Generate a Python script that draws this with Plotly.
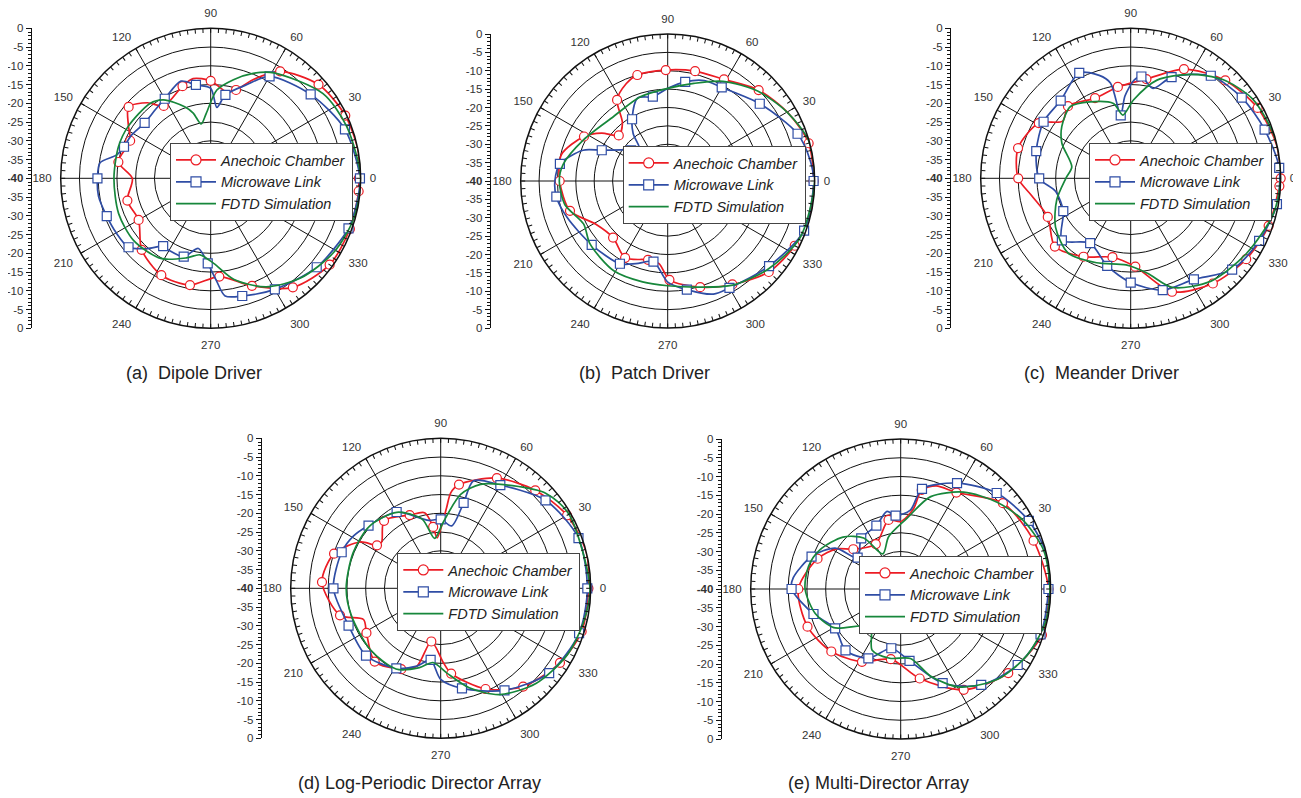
import plotly.graph_objects as go

W, H = 1301, 798
OFF = 8  # page body margin of the html page, in pixels
FONT = "Liberation Sans, Arial, Helvetica, sans-serif"

SERIES_NAMES = ["Anechoic Chamber", "Microwave Link", "FDTD Simulation"]
ANG_TICKS = list(range(0, 360, 30))
DB_TICKS = list(range(-40, 41, 5))

# ---------------- (a) Dipole Driver ----------------
A_RED_T = [0, 10, 25, 41, 57, 67, 74, 80, 90, 100, 107, 123, 130, 139, 147, 155, 170, 180, 195, 210, 226, 243, 259, 275, 291, 307, 324, 340, 355]
A_RED_R = [-0.5, 0, -0.4, -1.9, -6, -11.5, -15.5, -16.5, -14, -13, -14.3, -17, -13.7, -11, -13.8, -16.3, -15, -19.1, -17, -17.8, -13.5, -11, -11, -13.7, -9.3, -3.6, -0.8, -0.5, -0.4]
A_BLUE_T = [0, 20, 40, 60, 69, 80, 85, 90, 99, 107, 120, 129, 140, 152, 160, 166, 172, 180, 189, 200, 210, 220, 228, 235, 240, 251, 260, 268, 273, 277, 285, 300, 320, 340, 350]
A_BLUE_R = [-0.2, -1.9, -5.2, -8.6, -13.3, -17.4, -21, -16, -14.8, -12.9, -15.5, -16.5, -17, -15.9, -15.4, -14.2, -10.2, -9.8, -9.7, -10.5, -10.9, -11.4, -14.8, -17.9, -17.8, -17.9, -21, -17.3, -12.9, -8.4, -7.5, -5.8, -3.1, -0.9, -0.5]
A_GREEN_T = [0, 21, 37, 59, 68, 77, 86, 94, 100, 105, 110, 121, 129, 148, 161, 180, 201, 219, 238, 253, 262, 272, 283, 297, 312, 329, 344]
A_GREEN_R = [0, -1.2, -2.5, -7.2, -9.8, -13, -16.4, -22.7, -25.3, -22, -19.7, -15.6, -14.3, -14, -14, -14.2, -13.7, -13.6, -14.8, -17.8, -19.4, -17.3, -12.3, -7.5, -4.2, -1.7, -0.4]

# ---------------- (b) Patch Driver ----------------
B_RED_T = [0, 15, 29, 45, 61, 76, 91, 106, 113, 122, 128, 137, 144, 152, 166, 180, 197, 211, 226, 241, 256, 264, 271, 287, 302, 318, 333, 347]
B_RED_R = [-0.3, -0.3, -2.3, -5, -8.4, -9.2, -9.8, -10, -11.2, -14, -20, -21.8, -17.8, -14.2, -10.2, -10.6, -12.2, -17.2, -18.6, -16.1, -17.9, -17.4, -13.1, -9.8, -6.8, -3, -1.2, -0.3]
B_BLUE_T = [0, 8, 20, 40, 60, 70, 80, 90, 100, 110, 120, 126, 132, 140, 146, 155, 160, 171, 180, 188, 200, 220, 240, 249, 260, 270, 280, 292, 300, 320, 340]
B_BLUE_R = [-0.3, -0.8, -2.4, -7.3, -10.6, -10.9, -12.6, -14.8, -16.7, -16, -20.6, -24, -28.7, -27, -24.9, -20.2, -15.5, -10.3, -9.3, -9.4, -10.9, -13, -14, -15.9, -17.7, -12.5, -10, -6.8, -6.4, -4, -0.5]
B_GREEN_T = [0, 16, 30, 45, 61, 75, 90, 108, 130, 154, 171, 180, 193, 207, 219, 239, 256, 270, 287, 302, 319, 337]
B_GREEN_R = [0, -0.1, -2.5, -5.4, -9, -12.5, -14.8, -15.9, -17.1, -14.5, -11.2, -10.5, -11.3, -14.3, -12.8, -11.5, -11.7, -11.5, -9.8, -6.6, -3.6, -0.8]

# ---------------- (c) Meander Driver ----------------
C_RED_T = [0, 13, 29, 46, 64, 81, 98, 114, 131, 140, 149, 165, 180, 190, 205, 222, 239, 257, 273, 290, 308, 325, 341, 357]
C_RED_R = [0, -0.1, -1.3, -3.7, -7.6, -13.2, -15.4, -16.6, -14.5, -16.3, -11.4, -8.9, -10, -13.2, -15.6, -12.8, -15.6, -18.4, -16.4, -7.8, -4.4, -2.4, -1.1, -0.3]
C_BLUE_T = [4, 20, 36, 52, 68, 76, 84, 88, 94, 99, 102, 107, 116, 132, 147, 164, 180, 190, 206, 222, 238, 255, 270, 286, 302, 318, 334, 350]
C_BLUE_R = [-0.3, -2, -3.4, -5.3, -10.9, -15.3, -12.7, -13.8, -18, -23, -14, -11.3, -8.7, -12.1, -12.3, -13.8, -15.6, -19.7, -20, -15.3, -19.6, -15.8, -12.2, -9, -8.2, -3.6, -1.9, -0.4]
C_GREEN_T = [0, 15, 33, 47, 60, 75, 88, 97, 103, 118, 130, 143, 153, 169, 180, 196, 213, 230, 248, 267, 280, 291, 308, 327, 346]
C_GREEN_R = [0, 0, -1.2, -4, -8, -12.9, -19.1, -23, -19.5, -16.9, -15, -17, -19.4, -24, -22.7, -19.5, -16.1, -14, -15.7, -16.9, -14.3, -8.8, -5.2, -3.2, -0.8]

# ---------------- (d) Log-Periodic Director Array ----------------
D_RED_T = [0, 14, 30, 46, 63, 80, 84, 86, 94, 97, 102, 113, 130, 142, 146, 150, 162, 177, 195, 202, 211, 228, 244, 253, 260, 272, 277, 294, 310, 328, 343]
D_RED_R = [-0.6, 0, -1.1, -3.7, -7, -11.9, -14.4, -18.8, -26.5, -23.5, -19.4, -18.8, -16.5, -20, -19.5, -15.3, -10.1, -8.3, -12.2, -17.8, -16.9, -13.7, -16, -18.3, -25.6, -20.2, -17.1, -10.6, -5.8, -2.5, -0.7]
D_BLUE_T = [0, 20, 40, 60, 73, 75, 80, 90, 100, 120, 139, 149, 160, 180, 202, 222, 241, 253, 262, 270, 282, 302, 322, 342]
D_BLUE_R = [-0.9, -0.9, -3.5, -8.2, -10, -16.4, -23.1, -21.6, -21.6, -16.5, -14.5, -12.9, -11.9, -11.4, -13.5, -13.2, -15.6, -18.3, -20.7, -15.7, -12.7, -7.9, -3.3, -1.2]
D_GREEN_T = [0, 30, 42, 55, 69, 78, 88, 97, 105, 120, 139, 158, 180, 197, 221, 241, 255, 264, 274, 286, 299, 315, 332, 346]
D_GREEN_R = [-0.2, -0.5, -2.2, -6.6, -10.3, -14.4, -22.5, -26.6, -20.9, -16.6, -14.8, -14.8, -14.8, -15.1, -15.1, -15.4, -18.1, -20.1, -17.4, -12.4, -7.6, -4.1, -1.9, -0.9]

# ---------------- (e) Multi-Director Array ----------------
E_RED_T = [0, 20, 40, 60, 71, 78, 81, 90, 100, 119, 140, 148, 160, 180, 202, 222, 242, 262, 282, 302, 322, 342]
E_RED_R = [-0.6, -2.3, -4.4, -10.3, -10.9, -13, -18.4, -22, -21.3, -26.3, -23.5, -19.8, -16.4, -12.7, -13.2, -15.1, -18, -21.1, -15.6, -8.3, -3.6, -0.4]
E_BLUE_T = [0, 13, 28, 45, 62, 78, 83, 94, 100, 111, 128, 144, 148, 160, 174, 180, 196, 211, 228, 245, 261, 277, 294, 310, 327, 342]
E_BLUE_R = [-0.6, 0, -1.3, -3.8, -8, -12.7, -18.8, -20.4, -19, -21.9, -22.9, -25.8, -19.4, -14.7, -11.2, -10.9, -15.8, -19.6, -18, -19.6, -24, -20.7, -12.5, -6.6, -2.8, -0.8]
E_GREEN_T = [0, 15, 29, 42, 57, 72, 85, 103, 117, 126, 138, 154, 166, 180, 196, 210, 231, 245, 261, 278, 289, 301, 317, 332, 347]
E_GREEN_R = [-0.2, -0.5, -2.5, -5.4, -9.2, -14.1, -21.1, -25.7, -29.5, -23.2, -19.3, -16.1, -14.7, -14.5, -16.3, -19.4, -27, -22, -21.3, -21.3, -15.4, -9.5, -4.7, -2, -0.4]

CAPTIONS = ["(a)  Dipole Driver", "(b)  Patch Driver", "(c)  Meander Driver",
            "(d) Log-Periodic Director Array", "(e) Multi-Director Array"]

DATA = [
    [(A_RED_T, A_RED_R), (A_BLUE_T, A_BLUE_R), (A_GREEN_T, A_GREEN_R)],
    [(B_RED_T, B_RED_R), (B_BLUE_T, B_BLUE_R), (B_GREEN_T, B_GREEN_R)],
    [(C_RED_T, C_RED_R), (C_BLUE_T, C_BLUE_R), (C_GREEN_T, C_GREEN_R)],
    [(D_RED_T, D_RED_R), (D_BLUE_T, D_BLUE_R), (D_GREEN_T, D_GREEN_R)],
    [(E_RED_T, E_RED_R), (E_BLUE_T, E_BLUE_R), (E_GREEN_T, E_GREEN_R)],
]

# layout geometry (screen pixels): centre, radius, left-axis x, legend top-left, caption centre
GEOM = [
    dict(cx=210.7, cy=178.3, R=150, ax=31.7, lx=170, ly=143, capx=194, capy=373),
    dict(cx=667.7, cy=181.0, R=147, ax=490.7, lx=622.7, ly=146, capx=644, capy=373),
    dict(cx=1130.7, cy=178.3, R=150, ax=951.0, lx=1089, ly=143, capx=1101, capy=373),
    dict(cx=440.7, cy=588.3, R=150, ax=261.7, lx=397.3, ly=553, capx=419, capy=783),
    dict(cx=900.7, cy=589.0, R=150, ax=721.7, lx=859, ly=556, capx=878, capy=783),
]

COLORS = ["#EC1C24", "#2F4DA5", "#17873B"]
SYMBOLS = ["circle", "square", None]


def px(x):
    return (x - OFF) / W


def py(y):
    return 1 - (y - OFF) / H


def marker_indices(theta, gap=15):
    sel, last = [], -1e9
    for i, t in enumerate(theta):
        if t - last >= gap:
            sel.append(i)
            last = t
    return sel


fig = go.Figure()
layout = dict(width=W, height=H,
              margin=dict(l=0, r=0, t=0, b=0, pad=0, autoexpand=False),
              paper_bgcolor="white", plot_bgcolor="white", showlegend=True,
              annotations=[])

for i, (g, series) in enumerate(zip(GEOM, DATA)):
    k = i + 1
    pk = "polar" if k == 1 else f"polar{k}"
    tk = f"polar{k + 5}"
    lk = "legend" if k == 1 else f"legend{k}"
    xk = "x" if k == 1 else f"x{k}"
    yk = "y" if k == 1 else f"y{k}"
    cx, cy, R = g["cx"], g["cy"], g["R"]
    xd = [px(cx - R), px(cx + R)]
    yd = [py(cy + R), py(cy - R)]

    layout[pk] = dict(
        domain=dict(x=xd, y=yd), bgcolor="rgba(0,0,0,0)",
        radialaxis=dict(range=[-40, 0], tick0=-40, dtick=5, showticklabels=False,
                        ticks="", showline=False, gridcolor="#111", gridwidth=0.8),
        angularaxis=dict(rotation=0, direction="counterclockwise",
                         tickmode="array", tickvals=ANG_TICKS,
                         ticktext=[str(a) for a in ANG_TICKS],
                         showgrid=True, gridcolor="#111", gridwidth=0.8,
                         showline=True, linecolor="#111", linewidth=1.5,
                         ticks="outside", ticklen=6, tickcolor="rgba(0,0,0,0)",
                         tickfont=dict(size=11.5, color="#333", family=FONT)))
    layout[tk] = dict(
        domain=dict(x=xd, y=yd), bgcolor="rgba(0,0,0,0)",
        radialaxis=dict(range=[-40, 0], visible=False),
        angularaxis=dict(rotation=0, direction="counterclockwise",
                         tickmode="array", tickvals=list(range(0, 360, 3)),
                         ticks="inside", ticklen=4, tickwidth=1, tickcolor="#111",
                         showticklabels=False, showgrid=False, showline=False))
    fig.add_trace(go.Scatterpolar(r=[None], theta=[None], subplot=tk,
                                  showlegend=False, hoverinfo="skip"))

    # left dB axis
    xa = "xaxis" if k == 1 else f"xaxis{k}"
    ya = "yaxis" if k == 1 else f"yaxis{k}"
    layout[xa] = dict(domain=[px(g["ax"]), px(g["ax"]) + 0.02], visible=False,
                      range=[0, 1], fixedrange=True)
    ticktext = [("<b>-40</b>" if v == 0 else str(abs(v) - 40)) for v in DB_TICKS]
    layout[ya] = dict(domain=yd, anchor=xk, range=[-40, 40], tickmode="array",
                      tickvals=DB_TICKS, ticktext=ticktext, ticks="outside",
                      ticklen=5, tickcolor="#111", showline=True, linecolor="#111",
                      linewidth=1, showgrid=False, zeroline=False, fixedrange=True,
                      automargin=False,
                      tickfont=dict(size=11.5, color="#333", family=FONT),
                      minor=dict(dtick=1, tick0=0, ticks="outside", ticklen=3,
                                 tickcolor="#111", showgrid=False))
    fig.add_trace(go.Scatter(x=[None], y=[None], xaxis=xk, yaxis=yk,
                             showlegend=False, hoverinfo="skip"))

    # curves
    for j, ((th, rr), name) in enumerate(zip(series, SERIES_NAMES)):
        col = COLORS[j]
        th_c = list(th) + [th[0] + 360]
        rr_c = list(rr) + [rr[0]]
        fig.add_trace(go.Scatterpolar(
            r=rr_c, theta=th_c, mode="lines", subplot=pk,
            line=dict(color=col, width=1.7, shape="spline", smoothing=0.8),
            showlegend=False, hoverinfo="skip"))
        if SYMBOLS[j]:
            idx = marker_indices(th)
            fig.add_trace(go.Scatterpolar(
                r=[rr[n] for n in idx], theta=[th[n] for n in idx],
                mode="markers", subplot=pk,
                marker=dict(symbol=SYMBOLS[j], size=9, color="white",
                            line=dict(color=col, width=1.2)),
                showlegend=False, hoverinfo="skip"))
        # legend entry
        fig.add_trace(go.Scatterpolar(
            r=[None], theta=[None], subplot=pk, name=name, legend=lk,
            mode="lines+markers" if SYMBOLS[j] else "lines",
            line=dict(color=col, width=1.7),
            marker=dict(symbol=SYMBOLS[j] or "circle", size=10, color="white",
                        line=dict(color=col, width=1.2))))

    layout[lk] = dict(x=px(g["lx"]), y=py(g["ly"]), xanchor="left", yanchor="top",
                      bgcolor="white", bordercolor="#444", borderwidth=1,
                      font=dict(size=14.5, family=FONT, color="#222", style="italic"),
                      itemwidth=40, tracegroupgap=0, traceorder="normal")

    layout["annotations"].append(dict(
        x=px(g["capx"]), y=py(g["capy"]), xref="paper", yref="paper",
        text=CAPTIONS[i], showarrow=False, xanchor="center", yanchor="middle",
        font=dict(size=18, family=FONT, color="#222")))

fig.update_layout(**layout)
fig.write_html("out.html")
